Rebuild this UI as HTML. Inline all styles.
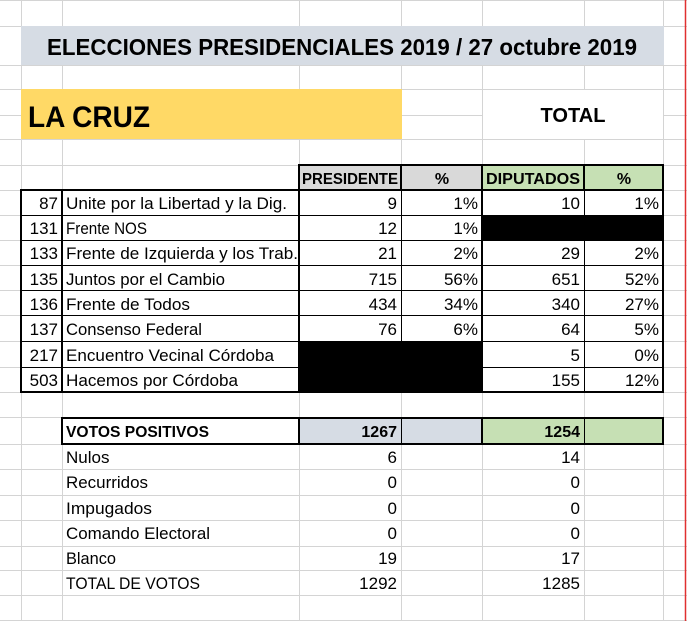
<!DOCTYPE html>
<html><head><meta charset="utf-8"><style>
html,body{margin:0;padding:0;background:#fff;}
svg{display:block;font-family:"Liberation Sans",sans-serif;}
</style></head><body>
<svg width="687" height="621" viewBox="0 0 687 621" xmlns="http://www.w3.org/2000/svg">
<rect width="687" height="621" fill="#fff"/>
<!-- grid -->
<g stroke="#d4d4d4" stroke-width="1">
<line x1="21.5" y1="0" x2="21.5" y2="621"/>
<line x1="62.5" y1="0" x2="62.5" y2="621"/>
<line x1="299.5" y1="0" x2="299.5" y2="621"/>
<line x1="401.5" y1="0" x2="401.5" y2="621"/>
<line x1="482.5" y1="0" x2="482.5" y2="621"/>
<line x1="584.5" y1="0" x2="584.5" y2="621"/>
<line x1="663.5" y1="0" x2="663.5" y2="621"/>
<line x1="0" y1="0.5" x2="687" y2="0.5"/>
<line x1="0" y1="26.5" x2="687" y2="26.5"/>
<line x1="0" y1="65.5" x2="687" y2="65.5"/>
<line x1="0" y1="89.5" x2="687" y2="89.5"/>
<line x1="0" y1="115.5" x2="687" y2="115.5"/>
<line x1="0" y1="139.5" x2="687" y2="139.5"/>
<line x1="0" y1="165.5" x2="687" y2="165.5"/>
<line x1="0" y1="190.5" x2="687" y2="190.5"/>
<line x1="0" y1="215.5" x2="687" y2="215.5"/>
<line x1="0" y1="240.5" x2="687" y2="240.5"/>
<line x1="0" y1="265.5" x2="687" y2="265.5"/>
<line x1="0" y1="290.5" x2="687" y2="290.5"/>
<line x1="0" y1="315.5" x2="687" y2="315.5"/>
<line x1="0" y1="341.5" x2="687" y2="341.5"/>
<line x1="0" y1="367.5" x2="687" y2="367.5"/>
<line x1="0" y1="392.5" x2="687" y2="392.5"/>
<line x1="0" y1="417.5" x2="687" y2="417.5"/>
<line x1="0" y1="444.5" x2="687" y2="444.5"/>
<line x1="0" y1="469.5" x2="687" y2="469.5"/>
<line x1="0" y1="495.5" x2="687" y2="495.5"/>
<line x1="0" y1="520.5" x2="687" y2="520.5"/>
<line x1="0" y1="546.5" x2="687" y2="546.5"/>
<line x1="0" y1="570.5" x2="687" y2="570.5"/>
<line x1="0" y1="595.5" x2="687" y2="595.5"/>
<line x1="0" y1="620.5" x2="687" y2="620.5"/>
</g>
<!-- red right edge -->
<line x1="685.5" y1="0" x2="685.5" y2="621" stroke="#e03030" stroke-width="1.5"/>
<!-- title -->
<rect x="21" y="26" width="643" height="39" fill="#d6dce4"/>
<text x="342" y="55" font-size="23" font-weight="bold" text-anchor="middle" textLength="590" lengthAdjust="spacingAndGlyphs">ELECCIONES PRESIDENCIALES 2019 / 27 octubre 2019</text>
<!-- LA CRUZ -->
<rect x="21" y="89" width="381" height="50" fill="#ffd966"/>
<text x="28" y="127" font-size="30" font-weight="bold" textLength="122" lengthAdjust="spacingAndGlyphs">LA CRUZ</text>
<!-- TOTAL merged cell -->
<rect x="483" y="90" width="180" height="49" fill="#fff"/>
<text x="573" y="122" font-size="20" font-weight="bold" text-anchor="middle" textLength="65" lengthAdjust="spacingAndGlyphs">TOTAL</text>
<!-- header -->
<rect x="299" y="165" width="183" height="25" fill="#d9d9d9"/>
<rect x="482" y="165" width="181" height="25" fill="#c6e0b4"/>
<!-- black cells -->
<rect x="482" y="215" width="181" height="25" fill="#000"/>
<rect x="299" y="341" width="183" height="51" fill="#000"/>
<!-- VOTOS fills -->
<rect x="299" y="418" width="183" height="26" fill="#d6dce4"/>
<rect x="482" y="418" width="181" height="26" fill="#c6e0b4"/>
<!-- borders -->
<g stroke="#000" stroke-width="2" fill="none">
<rect x="299" y="165" width="364" height="25"/>
<line x1="401" y1="165" x2="401" y2="190"/>
<line x1="482" y1="165" x2="482" y2="190"/>
<line x1="584" y1="165" x2="584" y2="190"/>
<rect x="21" y="190" width="642" height="202"/>
<line x1="62" y1="190" x2="62" y2="392"/>
<line x1="299" y1="190" x2="299" y2="392"/>
<line x1="482" y1="190" x2="482" y2="392"/>
<rect x="62" y="418" width="601" height="26"/>
<line x1="299" y1="418" x2="299" y2="444"/>
<line x1="482" y1="418" x2="482" y2="444"/>
</g>
<g stroke="#000" stroke-width="1">
<line x1="401.5" y1="190" x2="401.5" y2="341"/>
<line x1="584.5" y1="240" x2="584.5" y2="392"/>
<line x1="584.5" y1="190" x2="584.5" y2="215"/>
<line x1="401.5" y1="418" x2="401.5" y2="444"/>
<line x1="584.5" y1="418" x2="584.5" y2="444"/>
<line x1="21" y1="215.5" x2="663" y2="215.5"/>
<line x1="21" y1="240.5" x2="663" y2="240.5"/>
<line x1="21" y1="265.5" x2="663" y2="265.5"/>
<line x1="21" y1="290.5" x2="663" y2="290.5"/>
<line x1="21" y1="315.5" x2="663" y2="315.5"/>
<line x1="21" y1="341.5" x2="663" y2="341.5"/>
<line x1="21" y1="367.5" x2="663" y2="367.5"/>
</g>
<!-- header text -->
<g font-size="16" font-weight="bold">
<text x="350" y="184" text-anchor="middle" textLength="96" lengthAdjust="spacingAndGlyphs">PRESIDENTE</text>
<text x="442" y="184" text-anchor="middle">%</text>
<text x="533" y="184" text-anchor="middle" textLength="94" lengthAdjust="spacingAndGlyphs">DIPUTADOS</text>
<text x="624" y="184" text-anchor="middle">%</text>
</g>
<!-- data rows -->
<g font-size="17">
<g text-anchor="end">
<text x="58" y="209">87</text>
<text x="58" y="234">131</text>
<text x="58" y="259">133</text>
<text x="58" y="285">135</text>
<text x="58" y="310">136</text>
<text x="58" y="335">137</text>
<text x="58" y="361">217</text>
<text x="58" y="386">503</text>
</g>
<text x="66" y="209" textLength="221" lengthAdjust="spacingAndGlyphs">Unite por la Libertad y la Dig.</text>
<text x="66" y="234" textLength="81" lengthAdjust="spacingAndGlyphs">Frente NOS</text>
<text x="66" y="259" textLength="232" lengthAdjust="spacingAndGlyphs">Frente de Izquierda y los Trab.</text>
<text x="66" y="285" textLength="159" lengthAdjust="spacingAndGlyphs">Juntos por el Cambio</text>
<text x="66" y="310" textLength="124" lengthAdjust="spacingAndGlyphs">Frente de Todos</text>
<text x="66" y="335" textLength="136" lengthAdjust="spacingAndGlyphs">Consenso Federal</text>
<text x="66" y="361" textLength="208" lengthAdjust="spacingAndGlyphs">Encuentro Vecinal Córdoba</text>
<text x="66" y="386" textLength="172" lengthAdjust="spacingAndGlyphs">Hacemos por Córdoba</text>
<g text-anchor="end">
<text x="397" y="209">9</text><text x="478" y="209">1%</text><text x="580" y="209">10</text><text x="659" y="209">1%</text>
<text x="397" y="234">12</text><text x="478" y="234">1%</text>
<text x="397" y="259">21</text><text x="478" y="259">2%</text><text x="580" y="259">29</text><text x="659" y="259">2%</text>
<text x="397" y="285">715</text><text x="478" y="285">56%</text><text x="580" y="285">651</text><text x="659" y="285">52%</text>
<text x="397" y="310">434</text><text x="478" y="310">34%</text><text x="580" y="310">340</text><text x="659" y="310">27%</text>
<text x="397" y="335">76</text><text x="478" y="335">6%</text><text x="580" y="335">64</text><text x="659" y="335">5%</text>
<text x="580" y="361">5</text><text x="659" y="361">0%</text>
<text x="580" y="386">155</text><text x="659" y="386">12%</text>
</g>
</g>
<!-- bottom section -->
<g font-size="16" font-weight="bold">
<text x="66" y="437" textLength="143" lengthAdjust="spacingAndGlyphs">VOTOS POSITIVOS</text>
<text x="397" y="437" text-anchor="end">1267</text>
<text x="580" y="437" text-anchor="end">1254</text>
</g>
<g font-size="17">
<text x="66" y="463">Nulos</text>
<text x="66" y="488" textLength="82" lengthAdjust="spacingAndGlyphs">Recurridos</text>
<text x="66" y="514" textLength="86" lengthAdjust="spacingAndGlyphs">Impugados</text>
<text x="66" y="539" textLength="144" lengthAdjust="spacingAndGlyphs">Comando Electoral</text>
<text x="66" y="564" textLength="50" lengthAdjust="spacingAndGlyphs">Blanco</text>
<text x="66" y="589" textLength="134" lengthAdjust="spacingAndGlyphs">TOTAL DE VOTOS</text>
<g text-anchor="end">
<text x="397" y="463">6</text><text x="580" y="463">14</text>
<text x="397" y="488">0</text><text x="580" y="488">0</text>
<text x="397" y="514">0</text><text x="580" y="514">0</text>
<text x="397" y="539">0</text><text x="580" y="539">0</text>
<text x="397" y="564">19</text><text x="580" y="564">17</text>
<text x="397" y="589">1292</text><text x="580" y="589">1285</text>
</g>
</g>
</svg>
</body></html>
